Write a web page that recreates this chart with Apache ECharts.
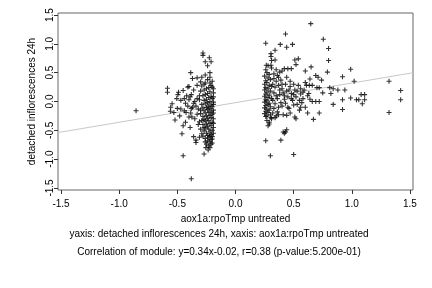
<!DOCTYPE html>
<html><head><meta charset="utf-8">
<script src="https://cdn.jsdelivr.net/npm/echarts@6/dist/echarts.min.js"></script>
<style>html,body{margin:0;padding:0;background:#fff}#c{width:432px;height:288px}</style>
</head><body><div id="c"></div>
<script>
var xTicks = [-1.5, -1.0, -0.5, 0.0, 0.5, 1.0, 1.5];
var yTicks = [-1.5, -1.0, -0.5, 0.0, 0.5, 1.0, 1.5];
var xName = "aox1a:rpoTmp untreated";
var yName = "detached inflorescences 24h";
var subtitle1 = "yaxis: detached inflorescences 24h, xaxis: aox1a:rpoTmp untreated";
var subtitle2 = "Correlation of module: y=0.34x-0.02, r=0.38 (p-value:5.200e-01)";
var slope = 0.34, intercept = -0.02;

var leftCluster = [
[-0.855,-0.16],
[-0.28,0.84],[-0.28,0.80],[-0.225,0.76],[-0.26,0.69],[-0.21,0.69],[-0.24,0.62],
[-0.385,0.50],[-0.22,0.50],[-0.26,0.46],[-0.22,0.42],[-0.29,0.42],[-0.33,0.41],[-0.37,0.40],
[-0.30,0.34],[-0.26,0.32],[-0.22,0.32],
[-0.585,0.23],[-0.585,0.16],[-0.49,0.16],[-0.495,0.12],[-0.45,0.19],[-0.41,0.25],[-0.40,0.26],
[-0.42,0.10],[-0.44,0.05],[-0.505,0.05],[-0.47,0.02],[-0.545,-0.04],[-0.557,-0.10],[-0.56,-0.17],[-0.53,-0.19],
[-0.52,-0.32],[-0.425,-0.19],[-0.44,-0.16],[-0.385,-0.20],[-0.40,-0.27],[-0.375,-0.27],
[-0.43,-0.36],[-0.45,-0.42],[-0.46,-0.56],[-0.36,-0.61],[-0.34,-0.67],[-0.34,-0.71],
[-0.45,-0.94],[-0.27,-0.91],[-0.38,-1.34],[-0.255,-0.80],[-0.235,-0.84],[-0.22,-0.80],
[-0.21,0.28],[-0.20,0.25],[-0.23,0.24],[-0.25,0.22],[-0.27,0.20],[-0.30,0.18],[-0.22,0.17],[-0.19,0.15],
[-0.24,0.14],[-0.26,0.12],[-0.28,0.10],[-0.21,0.09],[-0.23,0.07],[-0.20,0.05],[-0.25,0.04],[-0.31,0.03],
[-0.27,0.02],[-0.22,0.00],[-0.19,-0.01],[-0.24,-0.02],[-0.26,-0.04],[-0.29,-0.05],[-0.21,-0.06],[-0.23,-0.08],
[-0.20,-0.09],[-0.25,-0.10],[-0.28,-0.11],[-0.22,-0.12],[-0.32,-0.13],[-0.24,-0.14],[-0.19,-0.15],[-0.27,-0.16],
[-0.21,-0.17],[-0.23,-0.19],[-0.26,-0.20],[-0.30,-0.21],[-0.20,-0.22],[-0.22,-0.24],[-0.25,-0.25],[-0.28,-0.26],
[-0.21,-0.28],[-0.24,-0.29],[-0.19,-0.30],[-0.27,-0.31],[-0.23,-0.33],[-0.26,-0.34],[-0.31,-0.35],[-0.20,-0.36],
[-0.22,-0.38],[-0.25,-0.39],[-0.28,-0.40],[-0.21,-0.42],[-0.24,-0.43],[-0.19,-0.45],[-0.26,-0.46],[-0.23,-0.48],
[-0.20,-0.50],[-0.27,-0.51],[-0.22,-0.53],[-0.25,-0.55],[-0.21,-0.57],[-0.24,-0.59],[-0.20,-0.61],[-0.23,-0.63],
[-0.26,-0.64],[-0.21,-0.66],[-0.24,-0.68],[-0.22,-0.70],[-0.20,-0.72],[-0.25,-0.74],[-0.23,-0.77],
[-0.33,0.05],[-0.35,0.00],[-0.34,-0.08],[-0.36,-0.03],[-0.33,-0.22],[-0.35,-0.30],[-0.32,-0.40],[-0.30,-0.48],
[-0.29,-0.56],[-0.31,-0.62],[-0.38,0.12],[-0.36,0.20],[-0.33,0.28],[-0.39,0.08],[-0.37,-0.10],[-0.38,-0.12],
[-0.40,0.03],[-0.43,-0.03],[-0.41,-0.08],[-0.47,-0.13],[-0.50,-0.12],[-0.48,-0.25],[-0.39,-0.45],[-0.29,0.27],
[-0.20,0.35],[-0.24,0.38],[-0.27,0.30],[-0.19,0.22],[-0.19,0.08],[-0.19,-0.05],[-0.19,-0.20],[-0.19,-0.38],
[-0.19,-0.55],[-0.20,-0.65],[-0.21,-0.74],[-0.22,-0.60],[-0.26,-0.70],[-0.28,-0.60],[-0.27,-0.45],[-0.29,-0.33],
[-0.30,-0.15],[-0.31,0.10]
];

var rightCluster = [
[0.647,1.35],[0.43,1.17],[0.26,1.01],[0.385,0.99],[0.44,0.94],[0.49,0.99],[0.755,1.08],[0.80,0.92],
[0.34,0.89],[0.305,0.83],[0.305,0.78],[0.31,0.71],[0.34,0.72],[0.265,0.63],[0.305,0.63],[0.51,0.72],
[0.54,0.74],[0.52,0.64],[0.80,0.71],[0.42,0.57],[0.45,0.57],[0.48,0.57],[0.38,0.51],[0.40,0.53],
[0.65,0.60],[0.60,0.53],[0.99,0.56],[0.79,0.51],[0.69,0.45],[0.71,0.42],[0.92,0.43],[0.74,0.37],
[0.64,0.39],[1.02,0.35],[1.32,0.35],[1.42,0.19],[1.42,0.03],[1.32,-0.19],[1.08,0.12],[1.11,0.12],
[1.09,-0.04],[0.99,0.06],[1.04,0.03],[1.06,0.03],[1.11,0.03],[0.92,0.03],[0.92,-0.14],[0.94,0.20],
[0.88,0.20],[0.84,0.22],[0.81,0.24],[0.82,0.14],[0.84,-0.05],[0.72,0.24],[0.70,0.24],[0.75,0.15],
[0.72,0.00],[0.69,0.00],[0.66,0.00],[0.72,-0.20],[0.67,-0.31],[0.62,-0.20],[0.60,-0.10],[0.56,-0.10],
[0.52,-0.30],[0.51,-0.27],[0.47,-0.20],[0.44,-0.24],[0.41,-0.23],[0.37,-0.23],[0.34,-0.28],[0.305,-0.28],
[0.26,-0.26],[0.29,-0.39],[0.28,-0.42],[0.43,-0.53],[0.42,-0.55],[0.41,-0.53],[0.44,-0.49],[0.39,-0.67],
[0.26,-0.68],[0.30,-0.94],[0.50,-0.92],[0.61,0.28],[0.635,0.28],[0.66,0.28],[0.56,0.22],[0.56,0.13],
[0.26,0.55],[0.27,0.50],[0.29,0.47],[0.25,0.44],[0.28,0.41],[0.30,0.38],[0.26,0.36],[0.27,0.33],
[0.25,0.30],[0.29,0.28],[0.31,0.26],[0.26,0.24],[0.28,0.22],[0.25,0.20],[0.30,0.18],[0.27,0.16],
[0.26,0.13],[0.29,0.11],[0.25,0.09],[0.28,0.07],[0.31,0.05],[0.26,0.03],[0.27,0.01],[0.25,-0.01],
[0.29,-0.03],[0.28,-0.05],[0.26,-0.07],[0.30,-0.09],[0.25,-0.11],[0.27,-0.13],[0.29,-0.15],[0.26,-0.17],
[0.28,-0.19],[0.25,-0.21],[0.30,-0.23],[0.27,-0.25],[0.32,0.30],[0.34,0.25],[0.33,0.15],[0.35,0.10],
[0.32,0.02],[0.34,-0.04],[0.33,-0.12],[0.36,-0.18],[0.35,0.35],[0.37,0.28],[0.38,0.12],[0.36,0.05],
[0.39,-0.02],[0.37,-0.10],[0.40,0.22],[0.41,0.15],[0.42,0.04],[0.40,-0.08],[0.43,0.30],[0.44,0.18],
[0.45,0.08],[0.43,-0.03],[0.46,-0.12],[0.47,0.26],[0.48,0.14],[0.49,0.02],[0.51,0.20],[0.50,-0.06],
[0.52,0.08],[0.54,0.28],[0.55,-0.15],[0.58,0.16],[0.59,0.20],[0.57,-0.02],[0.63,0.14],[0.64,0.04],
[0.60,0.33],[0.33,0.48],[0.37,0.42],[0.39,0.37],[0.31,0.58],[0.35,0.55],[0.28,0.62],[0.32,-0.20],
[0.35,-0.25],[0.31,-0.30],[0.27,-0.33],[0.29,-0.36],
[0.50,0.30],[0.47,0.35],[0.53,0.18],[0.58,0.05],[0.62,0.10],[0.55,0.02],[0.50,0.12],[0.46,0.20],
[0.48,0.05],[0.53,-0.05],[0.45,-0.10],[0.42,0.10],[0.40,0.30],[0.44,0.42],[0.36,0.45],[0.33,0.40],[0.38,0.20]
];

var xMin = -1.526, xMax = 1.526, yMin = -1.535, yMax = 1.535;
var fitLine = [[xMin, slope * xMin + intercept], [xMax, slope * xMax + intercept]];
var plus = 'path://M-0.22,-1H0.22V-0.22H1V0.22H0.22V1H-0.22V0.22H-1V-0.22H-0.22Z';
var font = '"Liberation Sans", Arial, sans-serif';

var chart = echarts.init(document.getElementById('c'), null, {renderer: 'canvas'});
chart.setOption({
  animation: false,
  backgroundColor: '#fff',
  grid: {left: 58, right: 19, top: 13, bottom: 98, show: true, borderColor: '#666', borderWidth: 1, backgroundColor: 'transparent'},
  xAxis: {
    type: 'value', min: xMin, max: xMax,
    name: xName, nameLocation: 'middle', nameGap: 21,
    nameTextStyle: {fontFamily: font, fontSize: 10, color: '#000'},
    splitLine: {show: false},
    axisLine: {show: false, onZero: false},
    axisTick: {show: true, length: 4, lineStyle: {color: '#333'}, customValues: xTicks},
    axisLabel: {fontFamily: font, fontSize: 10, color: '#000', margin: 9, customValues: xTicks,
      formatter: function (v) { return v.toFixed(1); }}
  },
  yAxis: {
    type: 'value', min: yMin, max: yMax,
    name: yName, nameLocation: 'middle', nameGap: 18,
    nameTextStyle: {fontFamily: font, fontSize: 10, color: '#000'},
    splitLine: {show: false},
    axisLine: {show: false, onZero: false},
    axisTick: {show: true, length: 4, lineStyle: {color: '#333'}, customValues: yTicks},
    axisLabel: {fontFamily: font, fontSize: 10, color: '#000', margin: 3, rotate: 90, customValues: yTicks,
      formatter: function (v) { return v.toFixed(1); }}
  },
  series: [
    {type: 'line', data: fitLine, symbol: 'none', lineStyle: {color: '#c8c8c8', width: 1}, z: 1},
    {type: 'scatter', data: leftCluster, symbol: plus, symbolSize: 5, itemStyle: {color: '#000'}, z: 2},
    {type: 'scatter', data: rightCluster, symbol: plus, symbolSize: 5, itemStyle: {color: '#000'}, z: 2}
  ],
  graphic: [
    {type: 'text', x: 219, y: 229, style: {text: subtitle1, font: '10px ' + font, fill: '#000', textAlign: 'center'}},
    {type: 'text', x: 219, y: 247, style: {text: subtitle2, font: '10px ' + font, fill: '#000', textAlign: 'center'}}
  ]
});
</script></body></html>
